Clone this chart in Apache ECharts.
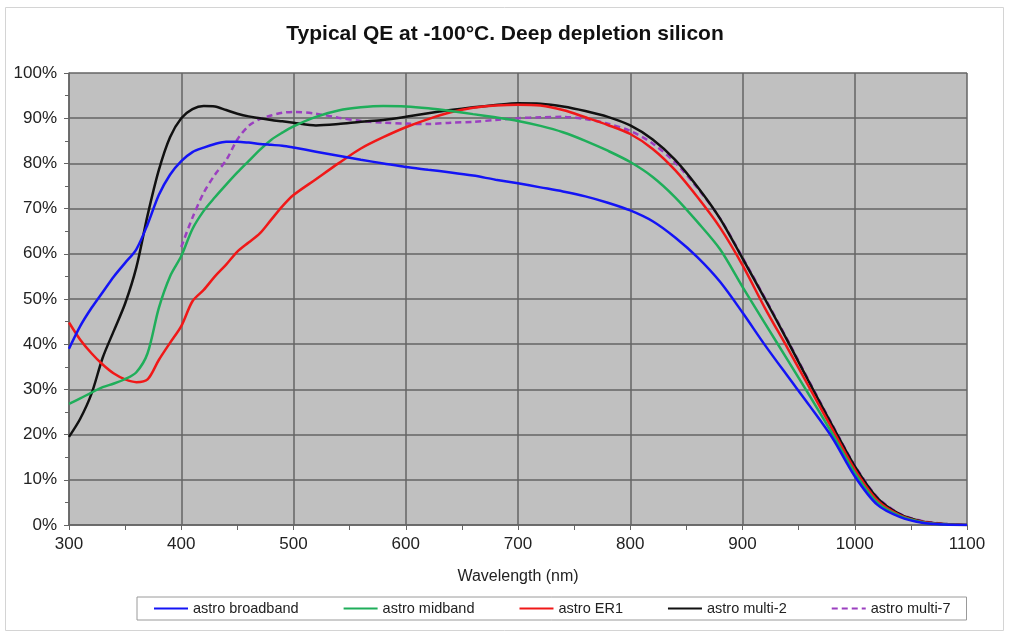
<!DOCTYPE html>
<html>
<head>
<meta charset="utf-8">
<script src="https://cdn.jsdelivr.net/npm/echarts@6/dist/echarts.min.js"></script>
<style>
html,body{margin:0;padding:0;background:#fff;}
#chart{width:1010px;height:636px;}
</style>
</head>
<body>
<div id="chart"></div>
<script>
const wavelengths = [300,310,320,330,340,350,360,370,380,390,400,410,420,430,440,450,460,470,480,490,500,520,540,560,580,600,620,640,660,680,700,720,740,760,780,800,820,840,860,880,900,920,940,960,980,1000,1020,1040,1060,1080,1100];

const broadband = [39,44,48,51.5,55,58,61,66.5,73,77.5,80.5,82.5,83.5,84.3,84.8,84.8,84.6,84.3,84.1,83.9,83.5,82.6,81.7,80.8,80,79.2,78.6,78,77.3,76.4,75.6,74.7,73.8,72.7,71.3,69.6,67.2,63.6,59.2,53.8,47,39.8,33,26.3,19.3,10.8,4.5,1.8,0.5,0.1,0];

const midband = [26.8,28,29.3,30.5,31.3,32.3,33.8,38,48,55,59.5,65.5,69.5,72.5,75.3,78,80.5,83,85.2,86.8,88.2,90.3,91.7,92.4,92.7,92.6,92.2,91.6,90.9,90.2,89.4,88.3,86.9,85,82.8,80.3,77,72.5,67,61,52.7,44.6,36.6,28.5,20.2,11.6,5,2,0.6,0.1,0];

const er1 = [44.8,41,38,35.5,33.5,32.2,31.6,32.2,36.5,40.3,44,49.5,52,55,57.6,60.5,62.5,64.5,67.5,70.5,73,76.5,80,83.3,85.8,88,89.8,91.3,92.3,92.8,93,92.8,91.8,90.2,88.5,86.5,83.2,78.5,72.5,65.8,57.5,48,39.2,30.2,21.2,12.3,5.5,2.2,0.7,0.15,0];

const multi2 = [19.5,23.5,29,37,43,49,57,68.5,78.5,85.8,90,92,92.7,92.6,91.8,91,90.4,90,89.6,89.3,89,88.4,88.7,89.2,89.6,90.3,91.1,91.8,92.4,92.9,93.3,93.2,92.6,91.6,90.3,88.4,85.3,80.8,74.8,67.8,59,50,40.8,31.3,22,13,6,2.4,0.8,0.2,0];

const multi7 = [null,null,null,null,null,null,null,null,null,null,61.5,68,73.5,77.5,80.7,85.3,88.3,89.8,90.6,91.2,91.4,91,90.1,89.4,89,88.8,88.7,89,89.2,89.6,90,90.2,90.3,89.8,88.8,87.2,84.4,80.2,74.5,67.8,59.2,50.2,41,31.5,22.2,13.2,6.2,2.5,0.9,0.25,0];

const xTickLabels = ['300','400','500','600','700','800','900','1000','1100'];
const seriesNames = ['astro broadband','astro midband','astro ER1','astro multi-2','astro multi-7'];
const seriesValues = [broadband, midband, er1, multi2, multi7];
const seriesColors = ['#1414f5','#1fae5a','#f01818','#111111','#9b3fc0'];

const chart = echarts.init(document.getElementById('chart'), null, {renderer:'canvas'});
const font = 'Liberation Sans, Arial, sans-serif';

const series = seriesNames.map((name, i) => ({
  name: name,
  type: 'line',
  symbol: 'none',
  showSymbol: false,
  smooth: 0.3,
  connectNulls: false,
  data: wavelengths.map((w, j) => [w, seriesValues[i][j]]),
  lineStyle: {
    color: seriesColors[i],
    width: 2.5,
    type: i === 4 ? [6, 4] : 'solid'
  },
  itemStyle: { color: seriesColors[i] },
  z: 10 - i
}));

chart.setOption({
  animation: false,
  backgroundColor: '#ffffff',
  title: {
    text: 'Typical QE at -100°C. Deep depletion silicon',
    left: 'center',
    top: 19,
    textStyle: { fontFamily: font, fontSize: 21, fontWeight: 'bold', color: '#111' }
  },
  graphic: [{
    type: 'rect',
    shape: { x: 5.5, y: 7.5, width: 998, height: 623 },
    style: { fill: 'none', stroke: '#d4d4d4', lineWidth: 1 },
    silent: true
  }],
  legend: {
    left: 137,
    top: 597,
    padding: [4, 16, 4, 16],
    itemGap: 44,
    itemWidth: 34,
    itemHeight: 10,
    borderColor: '#9a9a9a',
    borderWidth: 1,
    itemStyle: { opacity: 0 },
    textStyle: { fontFamily: font, fontSize: 14.5, color: '#222' },
    data: seriesNames
  },
  grid: {
    left: 69, right: 43, top: 73, bottom: 111,
    show: true,
    backgroundColor: '#c0c0c0',
    borderWidth: 0
  },
  xAxis: {
    type: 'value',
    min: 300, max: 1100, interval: 100,
    name: 'Wavelength (nm)',
    nameLocation: 'middle',
    nameGap: 44,
    nameTextStyle: { fontFamily: font, fontSize: 16, color: '#222' },
    axisLine: { show: true, lineStyle: { color: '#646464', width: 1.5 } },
    axisTick: { show: true, length: 5, lineStyle: { color: '#646464' } },
    minorTick: { show: true, splitNumber: 2, length: 5, lineStyle: { color: '#646464' } },
    axisLabel: {
      fontFamily: font, fontSize: 17, color: '#222', margin: 11,
      formatter: function (v) { return xTickLabels[Math.round((v - 300) / 100)]; }
    },
    splitLine: { show: true, lineStyle: { color: '#646464', width: 1.5 } }
  },
  yAxis: {
    type: 'value',
    min: 0, max: 100, interval: 10,
    axisLine: { show: true, lineStyle: { color: '#646464', width: 1.5 } },
    axisTick: { show: true, length: 5, lineStyle: { color: '#646464' } },
    minorTick: { show: true, splitNumber: 2, length: 4, lineStyle: { color: '#646464' } },
    axisLabel: { fontFamily: font, fontSize: 17, color: '#222', margin: 12, formatter: '{value}%' },
    splitLine: { show: true, lineStyle: { color: '#646464', width: 1.5 } }
  },
  series: series
});
</script>
</body>
</html>
